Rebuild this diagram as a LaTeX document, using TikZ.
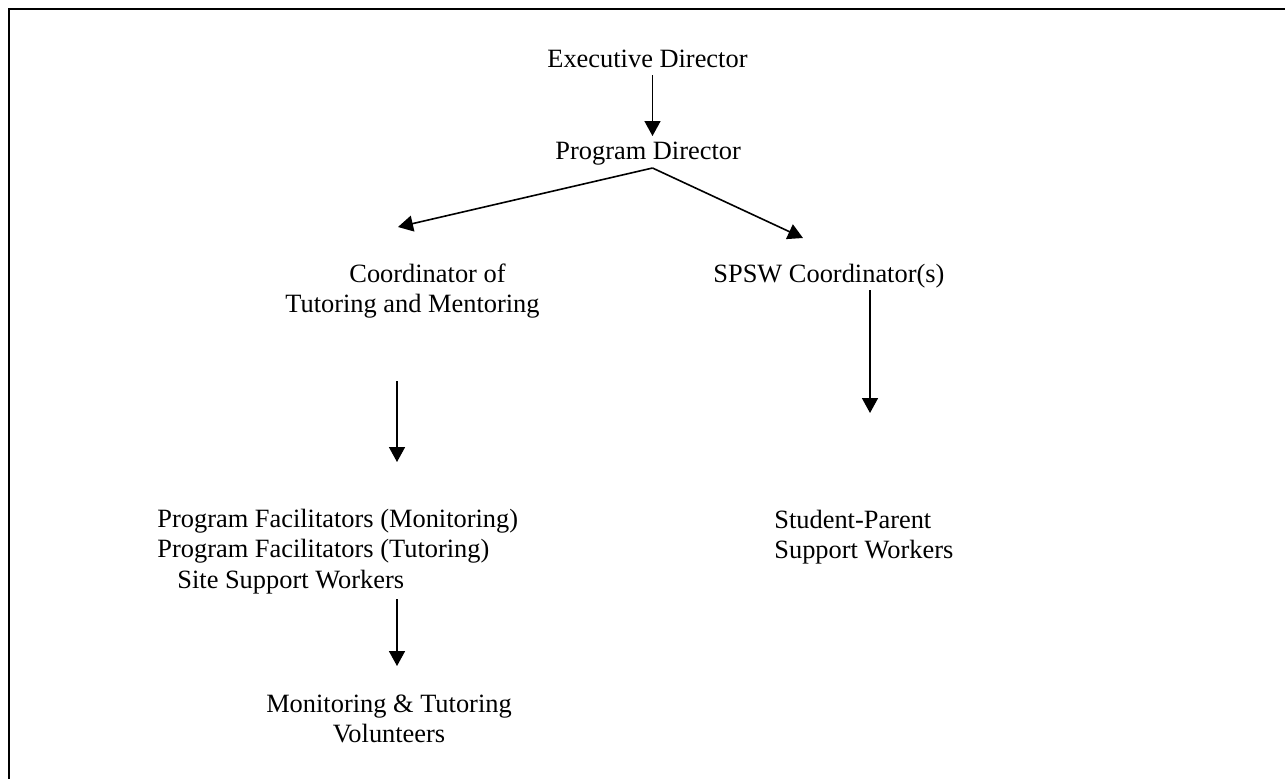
\documentclass[tikz,border=0pt]{standalone}
\usepackage{fontspec}
\setmainfont{Liberation Serif}
\usetikzlibrary{arrows.meta}
\begin{document}
\begin{tikzpicture}[x=0.5pt,y=-0.5pt,
  txt/.style={inner sep=0pt, font=\fontsize{13.2}{15.25}\selectfont},
  link/.style={line width=0.8pt, -{Triangle[length=7.5pt,width=8pt]}},
  frame/.style={line width=1.1pt}]
\useasboundingbox (0,0) rectangle (1285,778);
\clip (0,0) rectangle (1285,778);

% open frame: left and top rules
\draw[frame] (9,800) -- (9,9) -- (1300,9);

% positions
\node[txt, anchor=base west] (ed) at (547,67) {Executive Director};
\node[txt, anchor=base west] (pd) at (555,159) {Program Director};
\node[txt, anchor=base west] (ctm) at (285,282)
  {\begin{tabular}[t]{@{}l@{}}\hspace*{32pt}Coordinator of\\Tutoring and Mentoring\end{tabular}};
\node[txt, anchor=base west] (spsw) at (713,282) {SPSW Coordinator(s)};
\node[txt, anchor=base west] (pf) at (157,527)
  {\begin{tabular}[t]{@{}l@{}}Program Facilitators (Monitoring)\\Program Facilitators (Tutoring)\\\hspace*{10pt}Site Support Workers\end{tabular}};
\node[txt, anchor=base west] (spw) at (774,528)
  {\begin{tabular}[t]{@{}l@{}}Student-Parent\\Support Workers\end{tabular}};
\node[txt, anchor=base] (mtv) at (389,712)
  {\begin{tabular}[t]{@{}c@{}}Monitoring \& Tutoring\\Volunteers\end{tabular}};

% connector ends
\coordinate (ed-s) at (652.5,75);
\coordinate (pd-n) at (652.5,136);
\coordinate (pd-s) at (652.5,168);
\coordinate (ctm-n) at (398,227);
\coordinate (spsw-n) at (803,238);
\coordinate (ctm-s) at (397,381);
\coordinate (pf-n) at (397,462);
\coordinate (spsw-s) at (870,290);
\coordinate (spw-n) at (870,413);
\coordinate (pf-s) at (397,599);
\coordinate (mtv-n) at (397,666);

% reporting lines
\draw[link] (ed-s) -- (pd-n);
\draw[link] (pd-s) -- (ctm-n);
\draw[link] (pd-s) -- (spsw-n);
\draw[link] (ctm-s) -- (pf-n);
\draw[link] (spsw-s) -- (spw-n);
\draw[link] (pf-s) -- (mtv-n);
\end{tikzpicture}
\end{document}
